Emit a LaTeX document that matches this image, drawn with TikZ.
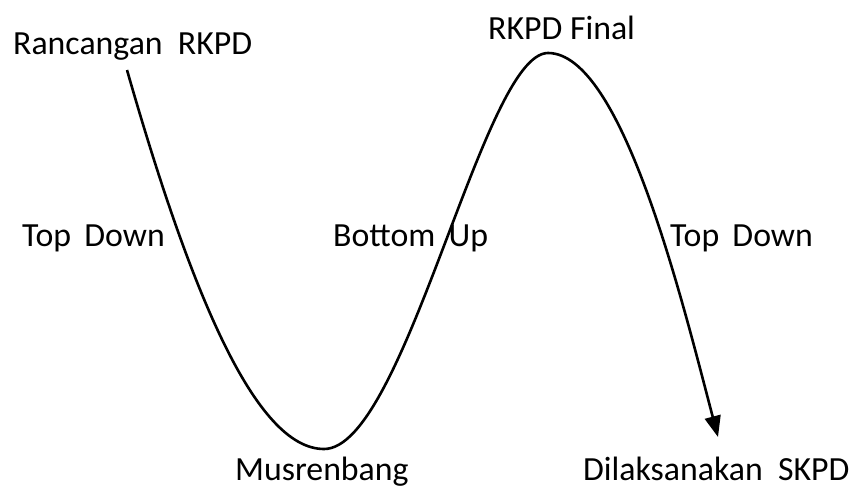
\documentclass[tikz,border=0pt]{standalone}
\usepackage{fontspec}
\setmainfont{Carlito}
\usepackage{tikz}
\usetikzlibrary{arrows.meta,positioning,calc}
\definecolor{curveblack}{RGB}{0,0,0}
\tikzset{
  lbl/.style={
    anchor=base west,
    inner sep=0pt,
    font=\fontsize{33.8}{38}\selectfont
  },
  arr/.style={-{Triangle[length=21pt,width=16pt]},line width=2.6pt,curveblack}
}
\begin{document}
\begin{tikzpicture}[x=1pt,y=-1pt]
        \useasboundingbox (0,0) rectangle (853,487);

        \node[lbl] (rancangan) at (13,55) {Rancangan\ \ RKPD};
        \node[lbl] (final) at (488,40) {RKPD Final};
        \node[lbl] (tdleft) at (22,246) {Top\ \,Down};
        \node[lbl] (bottomup) at (333,246) {Bottom\ \,Up};
        \node[lbl] (tdright) at (670,246) {Top\ \,Down};
        \node[lbl] (musren) at (235,480) {Musrenbang};
        \node[lbl] (skpd) at (583,480) {Dilaksanakan\ \ SKPD};

        \coordinate (start) at (127,70);
        \coordinate (low) at (324,449);
        \coordinate (peak) at (548,53);
        \coordinate (tip) at (718,437);

        \draw[arr] (start) .. controls (190,290) and (255,449) .. (low)
          .. controls (405,449) and (483,53) .. (peak)
          .. controls (622,53) and (682,300) .. (tip);
      \end{tikzpicture}
\end{document}
